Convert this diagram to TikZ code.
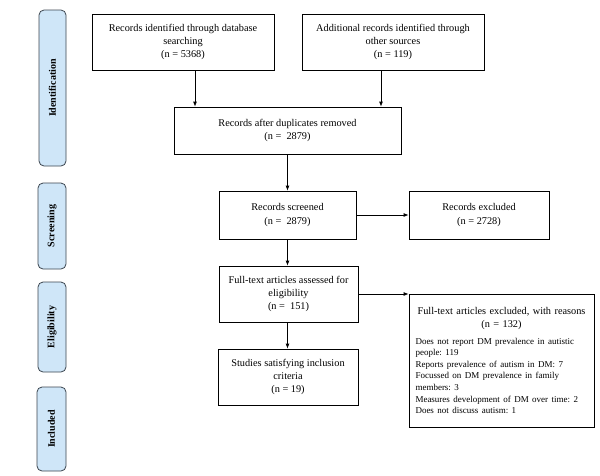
\documentclass[tikz,border=0pt]{standalone}
\usepackage{fontspec}
\setmainfont{Liberation Serif}
\usetikzlibrary{arrows.meta}
\definecolor{sidefill}{HTML}{CFE6F8}
\definecolor{sideline}{HTML}{3C4650}
\frenchspacing
\begin{document}
\begin{tikzpicture}[x=1pt,y=-1pt,
  box/.style={draw=black, line width=0.8pt, fill=white, align=center, inner sep=3pt,
    font=\fontsize{10.3}{13.2}\selectfont},
  sidebox/.style={draw=sideline, line width=0.8pt, fill=sidefill, rounded corners=5pt,
    rotate=90, inner sep=0pt, font=\fontsize{10}{12}\selectfont\bfseries},
  arr/.style={draw=black, line width=0.8pt, -{Latex[length=5pt,width=4pt]}}]
\useasboundingbox (0,0) rectangle (600,475);
\fill[white] (0,0) rectangle (600,475);

% side phase labels
\node[sidebox, minimum width=156pt, minimum height=27pt] (idl) at (52.5,88) {Identification};
\node[sidebox, minimum width=86pt, minimum height=28pt] (scl) at (52,226) {Screening};
\node[sidebox, minimum width=90pt, minimum height=28pt] (ell) at (52,327) {Eligibility};
\node[sidebox, minimum width=84pt, minimum height=29pt] (inl) at (51.5,429) {Included};

% boxes
\node[box, minimum width=182pt, minimum height=56pt] (db) at (183,42)
  {Records identified through database\\searching\\(n = 5368)};
\node[box, minimum width=182pt, minimum height=56pt] (oth) at (393,42)
  {Additional records identified through\\other sources\\(n = 119)};
\node[box, minimum width=227pt, minimum height=47pt] (dup) at (287.5,130.5)
  {Records after duplicates removed\\(n =\ \ 2879)};
\node[box, minimum width=137pt, minimum height=48pt] (scr) at (287.5,215)
  {Records screened\\(n =\ \ 2879)};
\node[box, minimum width=140pt, minimum height=48pt] (exc) at (479,215)
  {Records excluded\\(n = 2728)};
\node[box, minimum width=139pt, minimum height=56pt] (ft) at (288.5,294)
  {Full-text articles assessed for\\eligibility\\(n =\ \ 151)};
\node[box, minimum width=140pt, minimum height=56pt] (inc) at (288,377)
  {Studies satisfying inclusion\\criteria\\(n = 19)};
\node[box, minimum width=185pt, minimum height=133pt, text width=172pt, align=left] (ftx) at (501.5,360.5)
  {{\centering Full-text articles excluded, with reasons\\(n = 132)\par}
   \vspace{5pt}
   {\fontsize{9}{11.6}\selectfont
   Does not report DM prevalence in autistic\\
   people: 119\\
   Reports prevalence of autism in DM: 7\\
   Focussed on DM prevalence in family\\
   members: 3\\
   Measures development of DM over time: 2\\
   Does not discuss autism: 1\par}
   \vspace{6pt}};

% connectors
\draw[arr] ([xshift=12pt]db.south) -- ([xshift=12pt]db.south |- dup.north);
\draw[arr] ([xshift=-12pt]oth.south) -- ([xshift=-12pt]oth.south |- dup.north);
\draw[arr] (dup.south) -- (dup.south |- scr.north);
\draw[arr] (scr.east) -- (exc.west);
\draw[arr] (scr.south) -- (scr.south |- ft.north);
\draw[arr] (scr.south |- ft.south) -- (scr.south |- inc.north);
\draw[arr] (ft.east) -- (ft.east -| ftx.west);
\end{tikzpicture}
\end{document}
